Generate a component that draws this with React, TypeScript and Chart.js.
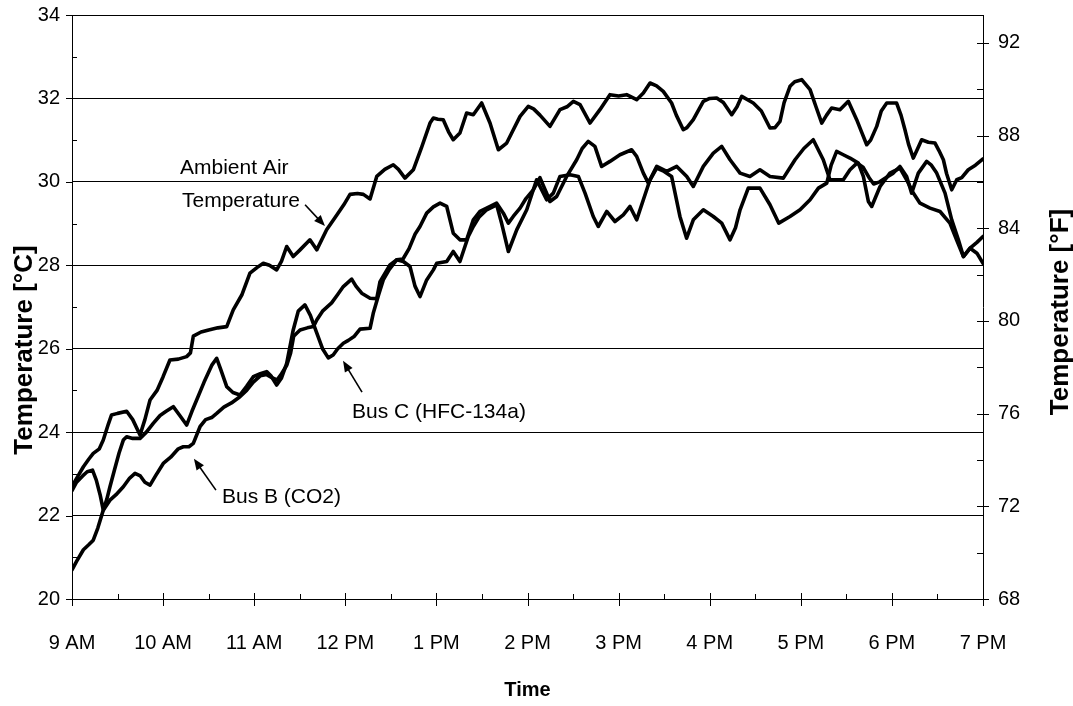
import React, { useEffect, useRef } from "react";
import { Chart, registerables } from "chart.js";

Chart.register(...registerables);

// Hour labels along the time axis (minutes after 9 AM, every 60 min)
const hourLabels = ["9 AM", "10 AM", "11 AM", "12 PM", "1 PM", "2 PM", "3 PM", "4 PM", "5 PM", "6 PM", "7 PM"];
const celsiusTicks = [20, 22, 24, 26, 28, 30, 32, 34];
const fahrenheitTicks = [68, 72, 76, 80, 84, 88, 92];

// Ambient air temperature [°C] vs minutes after 9 AM
const ambientMinutes = [0, 4, 7.5, 11, 14, 18, 20.6, 24, 26, 30, 36, 40, 44.8, 48, 51.4, 56, 60, 64.5, 70, 75.5, 78, 79.9, 85, 90, 96, 101.9, 106.2, 112, 117.2, 122, 126, 130, 134.8, 138, 141.4, 145.7, 150.2, 156.7, 161.2, 167.7, 174.3, 179, 183.1, 188, 191.9, 196.3, 200.7, 206, 211.6, 215, 219.3, 224.8, 230, 235.8, 238, 241, 244.5, 248, 251.1, 255.5, 259.9, 264.3, 269.8, 275.3, 280.8, 286.3, 290, 295.1, 300.5, 304, 308.2, 314.8, 321.4, 326, 330.2, 334.6, 341.2, 347.7, 354.3, 360, 365.3, 371.9, 376.3, 380.7, 385, 389.4, 394.9, 398, 402.6, 405, 409.2, 415.8, 420, 424.6, 429, 434.5, 438, 441.1, 448.7, 454, 459.7, 463, 466.3, 469, 472.9, 476, 480.6, 486.1, 490, 493.8, 497, 500.3, 505.8, 511.3, 516.8, 520, 523.4, 526, 530, 533, 536.6, 543.1, 546, 548.6, 551, 554.1, 557, 559.6, 564, 568.4, 571, 573.9, 576, 579.4, 582.7, 586, 590.3, 595, 600];
const ambientTemps = [22.7, 22.95, 23.17, 23.35, 23.49, 23.6, 23.81, 24.2, 24.41, 24.45, 24.5, 24.3, 23.93, 24.3, 24.77, 25.0, 25.33, 25.73, 25.75, 25.81, 25.9, 26.3, 26.4, 26.45, 26.5, 26.53, 26.93, 27.3, 27.81, 27.95, 28.05, 28.0, 27.89, 28.1, 28.45, 28.21, 28.37, 28.61, 28.37, 28.85, 29.2, 29.45, 29.7, 29.72, 29.7, 29.59, 30.13, 30.3, 30.41, 30.3, 30.09, 30.29, 30.8, 31.41, 31.53, 31.5, 31.49, 31.2, 31.01, 31.17, 31.65, 31.61, 31.89, 31.41, 30.77, 30.93, 31.2, 31.57, 31.81, 31.75, 31.6, 31.33, 31.73, 31.8, 31.93, 31.85, 31.41, 31.73, 32.09, 32.06, 32.09, 31.97, 32.13, 32.37, 32.3, 32.17, 31.89, 31.6, 31.25, 31.3, 31.49, 31.93, 32.0, 32.01, 31.9, 31.61, 31.8, 32.05, 31.89, 31.7, 31.29, 31.3, 31.45, 31.9, 32.29, 32.4, 32.45, 32.21, 31.8, 31.41, 31.6, 31.77, 31.73, 31.93, 31.49, 31.2, 30.89, 31.0, 31.33, 31.7, 31.89, 31.89, 31.6, 31.25, 30.9, 30.57, 30.8, 31.01, 30.95, 30.93, 30.75, 30.53, 30.2, 29.81, 30.05, 30.1, 30.29, 30.4, 30.55];

// Bus B (CO2) cabin temperature [°C]
const busBMinutes = [0, 3, 7.5, 11, 14, 17, 20.6, 25, 29, 33.8, 38, 41.5, 45, 48, 51.4, 55, 60.1, 65, 70, 73.3, 77, 79.9, 84.3, 88, 92, 95.3, 100, 105, 110.6, 115, 119.4, 124, 128.2, 132, 135, 138, 141.4, 144, 146, 148, 150.2, 155, 159, 161.2, 165, 171, 175, 178.7, 184.2, 187, 190.8, 196.3, 200.7, 202.8, 209.4, 213.8, 218.2, 222.6, 225.9, 229.2, 233.6, 238, 240.2, 246.8, 251.1, 255.5, 261, 264.3, 268, 273.1, 279.7, 283, 287.4, 292.9, 299.5, 306, 312.6, 317, 321.4, 328, 333.5, 337.9, 343.3, 346.6, 352.2, 357.6, 363.1, 367.5, 371.9, 376.3, 380.7, 385.1, 390, 394.9, 400.4, 404.8, 409.2, 415.8, 422.4, 427.9, 433.4, 437, 440, 445.4, 453.1, 459.7, 465.5, 472.9, 479.5, 486.1, 491.6, 497.1, 500, 503.6, 508, 512.4, 517.9, 521.2, 524.5, 526.7, 532.2, 538.7, 545.3, 549.7, 554.1, 558.5, 565.1, 571.7, 578.2, 582.6, 587.1, 591.5, 596, 600];
const busBTemps = [20.7, 20.9, 21.18, 21.3, 21.41, 21.7, 22.13, 22.37, 22.5, 22.69, 22.9, 23.01, 22.95, 22.8, 22.73, 22.95, 23.25, 23.4, 23.6, 23.65, 23.65, 23.73, 24.13, 24.3, 24.35, 24.45, 24.6, 24.7, 24.85, 25.0, 25.2, 25.35, 25.38, 25.3, 25.25, 25.4, 25.6, 25.9, 26.3, 26.37, 26.45, 26.5, 26.53, 26.69, 26.9, 27.1, 27.3, 27.49, 27.67, 27.5, 27.33, 27.21, 27.2, 27.6, 28.01, 28.13, 28.09, 27.97, 27.5, 27.25, 27.65, 27.89, 28.05, 28.09, 28.33, 28.09, 28.69, 28.93, 29.15, 29.33, 29.45, 29.0, 28.33, 28.85, 29.33, 30.05, 29.57, 29.73, 30.13, 30.17, 30.13, 29.73, 29.17, 28.93, 29.29, 29.05, 29.21, 29.41, 29.09, 29.57, 30.05, 30.33, 30.25, 30.13, 29.17, 28.65, 29.09, 29.33, 29.17, 29.01, 28.61, 28.9, 29.33, 29.85, 29.85, 29.45, 29.01, 29.17, 29.33, 29.57, 29.85, 29.97, 30.4, 30.73, 30.65, 30.57, 30.45, 30.13, 29.53, 29.41, 29.89, 30.21, 30.33, 30.05, 29.73, 29.49, 29.37, 29.29, 29.01, 28.61, 28.21, 28.41, 28.29, 28.05];

// Bus C (HFC-134a) cabin temperature [°C]
const busCMinutes = [0, 3, 7, 10, 13.5, 16, 18.5, 20.6, 23, 25, 28, 31, 33.8, 36, 40, 44.8, 49, 53.5, 58, 62, 66.7, 71, 75.5, 79, 82.1, 87, 92, 95.3, 98, 101.9, 106, 110.6, 115, 119.4, 124, 128.2, 131, 134.8, 138, 141.4, 145.7, 149, 153.4, 157, 161, 165, 168.8, 172, 175, 178.7, 182, 186, 189.7, 196.3, 198.4, 202, 205, 209, 213.8, 218, 222, 226, 229.2, 233.6, 238, 242.4, 246.8, 251.1, 255.5, 259.9, 264.3, 268.7, 273.1, 279.7, 284.1, 287.4, 290.6, 295.1, 299, 303.8, 308.2, 312.6, 314.8, 319.2, 325.8, 332.4, 336, 340, 344.4, 348.8, 354.3, 360.9, 368.6, 371.9, 376.3, 379.6, 385.1, 391.7, 398.3, 404.9, 409.2, 415.8, 422.4, 427.9, 433.4, 440, 446.5, 453.1, 459.7, 468.5, 476.2, 482, 488.2, 494.8, 499.2, 503.6, 508, 512.4, 517, 521, 525, 528, 532, 536, 540.9, 545.3, 549.7, 553, 557.4, 562.9, 566, 569.5, 575, 579.4, 583.8, 587.1, 591.5, 596, 600];
const busCTemps = [22.6, 22.8, 22.95, 23.05, 23.09, 22.85, 22.5, 22.13, 22.4, 22.69, 23.1, 23.5, 23.81, 23.89, 23.85, 23.85, 24.0, 24.21, 24.4, 24.5, 24.61, 24.4, 24.17, 24.5, 24.77, 25.2, 25.6, 25.77, 25.5, 25.09, 24.95, 24.89, 25.1, 25.33, 25.4, 25.45, 25.35, 25.13, 25.3, 25.65, 26.45, 26.9, 27.05, 26.8, 26.4, 26.0, 25.78, 25.85, 26.0, 26.13, 26.2, 26.3, 26.47, 26.49, 26.85, 27.3, 27.65, 27.9, 28.13, 28.15, 28.4, 28.75, 28.93, 29.25, 29.4, 29.49, 29.41, 28.77, 28.61, 28.61, 29.09, 29.29, 29.37, 29.49, 29.25, 29.01, 29.17, 29.37, 29.6, 29.81, 30.1, 29.73, 29.53, 29.65, 30.13, 30.53, 30.8, 30.97, 30.85, 30.37, 30.49, 30.65, 30.77, 30.61, 30.21, 29.97, 30.37, 30.25, 30.37, 30.13, 29.89, 30.37, 30.69, 30.85, 30.53, 30.21, 30.13, 30.29, 30.13, 30.09, 30.53, 30.8, 31.01, 30.53, 30.05, 30.05, 30.05, 30.29, 30.45, 30.35, 30.1, 29.95, 30.0, 30.1, 30.21, 30.37, 30.13, 29.73, 30.21, 30.49, 30.4, 30.21, 29.73, 29.09, 28.61, 28.21, 28.41, 28.55, 28.69];

const FONT = "'Liberation Sans', Arial, sans-serif";
const toPoints = (xs: number[], ys: number[]) => xs.map((x, i) => ({ x, y: ys[i] }));

// Axis tick marks (major + minor) drawn on the three axes
const tickMarks = {
  id: "tickMarks",
  afterDraw(chart: any) {
    const { ctx, chartArea, scales } = chart;
    const { left, right, bottom } = chartArea;
    ctx.save();
    ctx.strokeStyle = "#000";
    ctx.lineWidth = 1;
    const line = (x1: number, y1: number, x2: number, y2: number) => {
      ctx.beginPath();
      ctx.moveTo(x1, y1);
      ctx.lineTo(x2, y2);
      ctx.stroke();
    };
    for (let v = 20; v <= 34; v++) {
      const y = Math.round(scales.y.getPixelForValue(v)) + 0.5;
      if (v % 2 === 0) line(left - 6, y, left, y);
      else line(left, y, left + 5, y);
    }
    for (let f = 68; f <= 92; f += 2) {
      const y = Math.round(scales.y2.getPixelForValue(f)) + 0.5;
      if (f % 4 === 0) line(right - 6, y, right + 6, y);
      else line(right - 6, y, right, y);
    }
    for (let m = 0; m <= 600; m += 30) {
      const x = Math.round(scales.x.getPixelForValue(m)) + 0.5;
      if (m % 60 === 0) line(x, bottom - 6, x, bottom + 7);
      else line(x, bottom - 5, x, bottom);
    }
    ctx.restore();
  },
};

// Axis titles and series call-outs with arrows
const annotations = {
  id: "annotations",
  afterDraw(chart: any) {
    const { ctx, chartArea, scales } = chart;
    const px = (m: number) => scales.x.getPixelForValue(m);
    const py = (t: number) => scales.y.getPixelForValue(t);
    ctx.save();
    ctx.fillStyle = "#000";
    ctx.strokeStyle = "#000";

    // titles
    ctx.textAlign = "center";
    ctx.textBaseline = "middle";
    ctx.font = `bold 20px ${FONT}`;
    ctx.fillText("Time", (chartArea.left + chartArea.right) / 2, 690);
    ctx.font = `bold 26px ${FONT}`;
    ctx.save();
    ctx.translate(25, 350);
    ctx.rotate(-Math.PI / 2);
    ctx.fillText("Temperature [°C]", 0, 0);
    ctx.restore();
    ctx.save();
    ctx.translate(1061, 312);
    ctx.rotate(-Math.PI / 2);
    ctx.fillText("Temperature [°F]", 0, 0);
    ctx.restore();

    // call-out labels
    ctx.font = `21px ${FONT}`;
    ctx.textAlign = "left";
    ctx.fillText("Ambient Air", 180, 168);
    ctx.fillText("Temperature", 182, 201);
    ctx.fillText("Bus C (HFC-134a)", 352, 412);
    ctx.fillText("Bus B (CO2)", 222, 497);

    const arrow = (m1: number, t1: number, m2: number, t2: number) => {
      const x1 = px(m1), y1 = py(t1), x2 = px(m2), y2 = py(t2);
      const a = Math.atan2(y2 - y1, x2 - x1);
      const len = 11, half = 4.5;
      ctx.lineWidth = 1.6;
      ctx.beginPath();
      ctx.moveTo(x1, y1);
      ctx.lineTo(x2 - Math.cos(a) * len * 0.8, y2 - Math.sin(a) * len * 0.8);
      ctx.stroke();
      ctx.beginPath();
      ctx.moveTo(x2, y2);
      ctx.lineTo(x2 - Math.cos(a) * len + Math.sin(a) * half, y2 - Math.sin(a) * len - Math.cos(a) * half);
      ctx.lineTo(x2 - Math.cos(a) * len - Math.sin(a) * half, y2 - Math.sin(a) * len + Math.cos(a) * half);
      ctx.closePath();
      ctx.fill();
    };
    arrow(153.5, 29.45, 166.6, 28.94);
    arrow(191, 24.96, 178.5, 25.71);
    arrow(94.8, 22.61, 80.3, 23.36);
    ctx.restore();
  },
};

export default function App() {
  const canvasRef = useRef<HTMLCanvasElement | null>(null);

  useEffect(() => {
    const canvas = canvasRef.current;
    if (!canvas) return;
    const lineStyle = {
      borderColor: "#000",
      backgroundColor: "#000",
      borderWidth: 3.6,
      pointRadius: 0,
      tension: 0,
      borderJoinStyle: "round" as const,
      borderCapStyle: "round" as const,
      yAxisID: "y",
      xAxisID: "x",
    };
    const chart = new Chart(canvas, {
      type: "line",
      data: {
        datasets: [
          { label: "Ambient Air Temperature", data: toPoints(ambientMinutes, ambientTemps), ...lineStyle },
          { label: "Bus C (HFC-134a)", data: toPoints(busCMinutes, busCTemps), ...lineStyle },
          { label: "Bus B (CO2)", data: toPoints(busBMinutes, busBTemps), ...lineStyle },
        ],
      },
      options: {
        responsive: false,
        animation: false,
        layout: { padding: { top: 15, left: 0, right: 0, bottom: 0 } },
        plugins: { legend: { display: false }, tooltip: { enabled: false } },
        scales: {
          x: {
            type: "linear",
            position: "bottom",
            min: 0,
            max: 600,
            afterBuildTicks: (scale: any) => {
              scale.ticks = hourLabels.map((_, i) => ({ value: i * 60 }));
            },
            afterFit: (scale: any) => {
              scale.height = 107;
            },
            ticks: {
              callback: (v: any) => hourLabels[Math.round(Number(v) / 60)] ?? "",
              color: "#000",
              font: { family: FONT, size: 20 },
              padding: 32,
              maxRotation: 0,
              autoSkip: false,
            },
            grid: { display: false, drawTicks: false, tickLength: 0 },
            border: { display: true, color: "#000", width: 1 },
          },
          y: {
            type: "linear",
            position: "left",
            min: 20,
            max: 34,
            afterBuildTicks: (scale: any) => {
              scale.ticks = celsiusTicks.map((v) => ({ value: v }));
            },
            afterFit: (scale: any) => {
              scale.width = 72;
              scale.paddingTop = 0;
              scale.paddingBottom = 0;
            },
            ticks: {
              color: "#000",
              font: { family: FONT, size: 20 },
              padding: 12,
            },
            grid: { color: "#000", lineWidth: 1, drawTicks: false, tickLength: 0 },
            border: { display: true, color: "#000", width: 1 },
          },
          y2: {
            type: "linear",
            position: "right",
            min: 68,
            max: 93.2,
            afterBuildTicks: (scale: any) => {
              scale.ticks = fahrenheitTicks.map((v) => ({ value: v }));
            },
            afterFit: (scale: any) => {
              scale.width = 90;
              scale.paddingTop = 0;
              scale.paddingBottom = 0;
            },
            ticks: {
              color: "#000",
              font: { family: FONT, size: 20 },
              padding: 15,
            },
            grid: { display: false, drawOnChartArea: false, drawTicks: false, tickLength: 0 },
            border: { display: true, color: "#000", width: 1 },
          },
        },
      },
      plugins: [tickMarks, annotations],
    });
    return () => chart.destroy();
  }, []);

  return (
    <div style={{ position: "absolute", left: 0, top: 0, width: 1073, height: 706, background: "#fff" }}>
      <canvas ref={canvasRef} width={1073} height={706} style={{ display: "block" }} />
    </div>
  );
}
